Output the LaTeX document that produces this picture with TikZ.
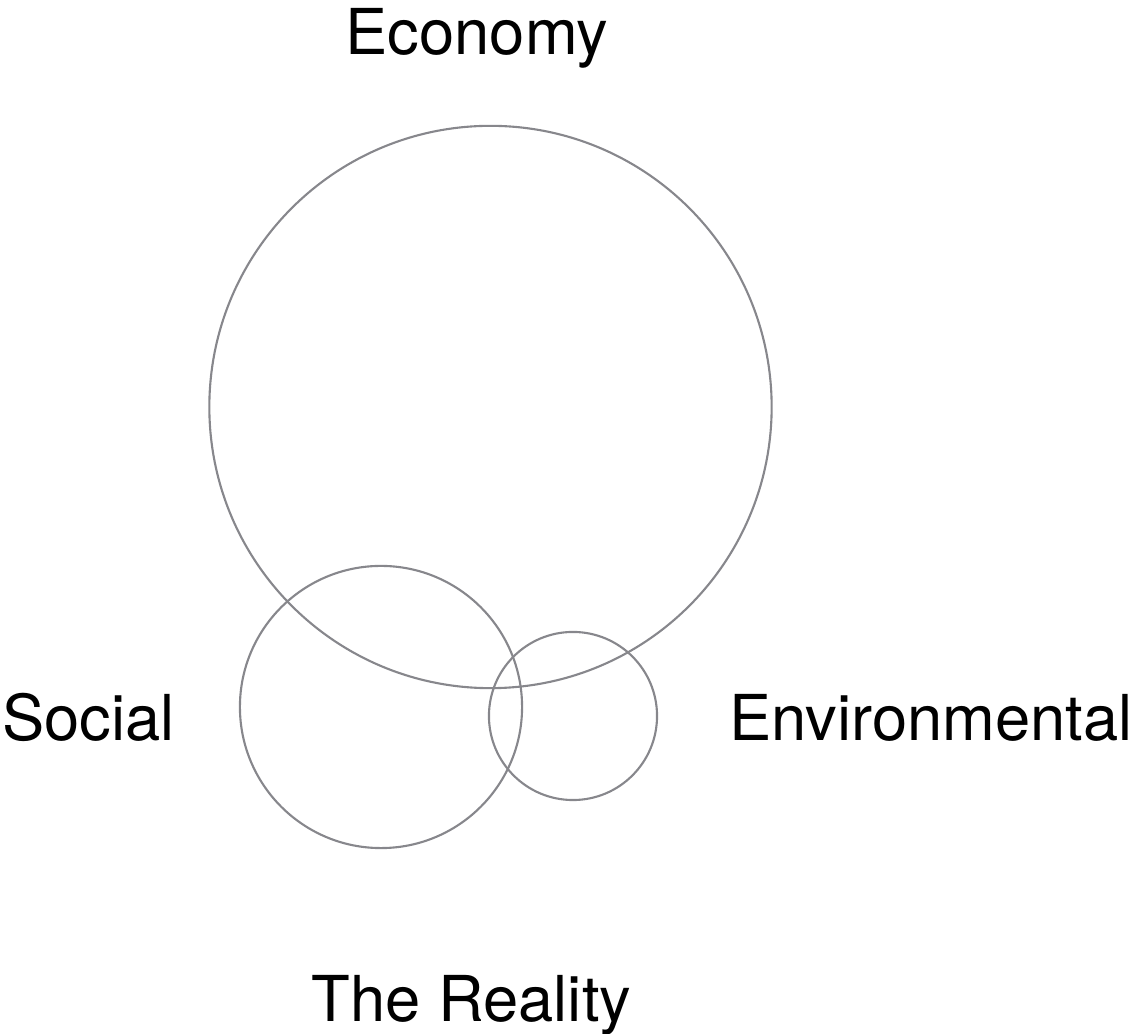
\documentclass[tikz,border=0pt]{standalone}
\usepackage{fontspec}
\setmainfont{TeX Gyre Heros}
\definecolor{ringgray}{RGB}{135,135,140}

\begin{document}
\begin{tikzpicture}[
	x=0.01cm,
	y=-0.01cm
]
\tikzset{
    ring/.style = {circle, draw=ringgray, line width=0.6pt, inner sep=0pt},
    tag/.style = {anchor=base, inner sep=0pt, font=\fontsize{18}{20}\selectfont},
}
\useasboundingbox (0,0) rectangle (1141,1034);

\node (eco) [ring, minimum size=5.62cm] at (490.5,407) {};
\node (soc) [ring, minimum size=2.82cm] at (381,707) {};
\node (env) [ring, minimum size=1.68cm] at (573,716) {};

\node (ecotext) [tag] at (477,55) {Economy};
\node (soctext) [tag] at (88.5,741) {Social};
\node (envtext) [tag] at (931,741) {Environmental};
\node (realtext) [tag] at (471.5,1022) {The Reality};
\end{tikzpicture}
\end{document}
